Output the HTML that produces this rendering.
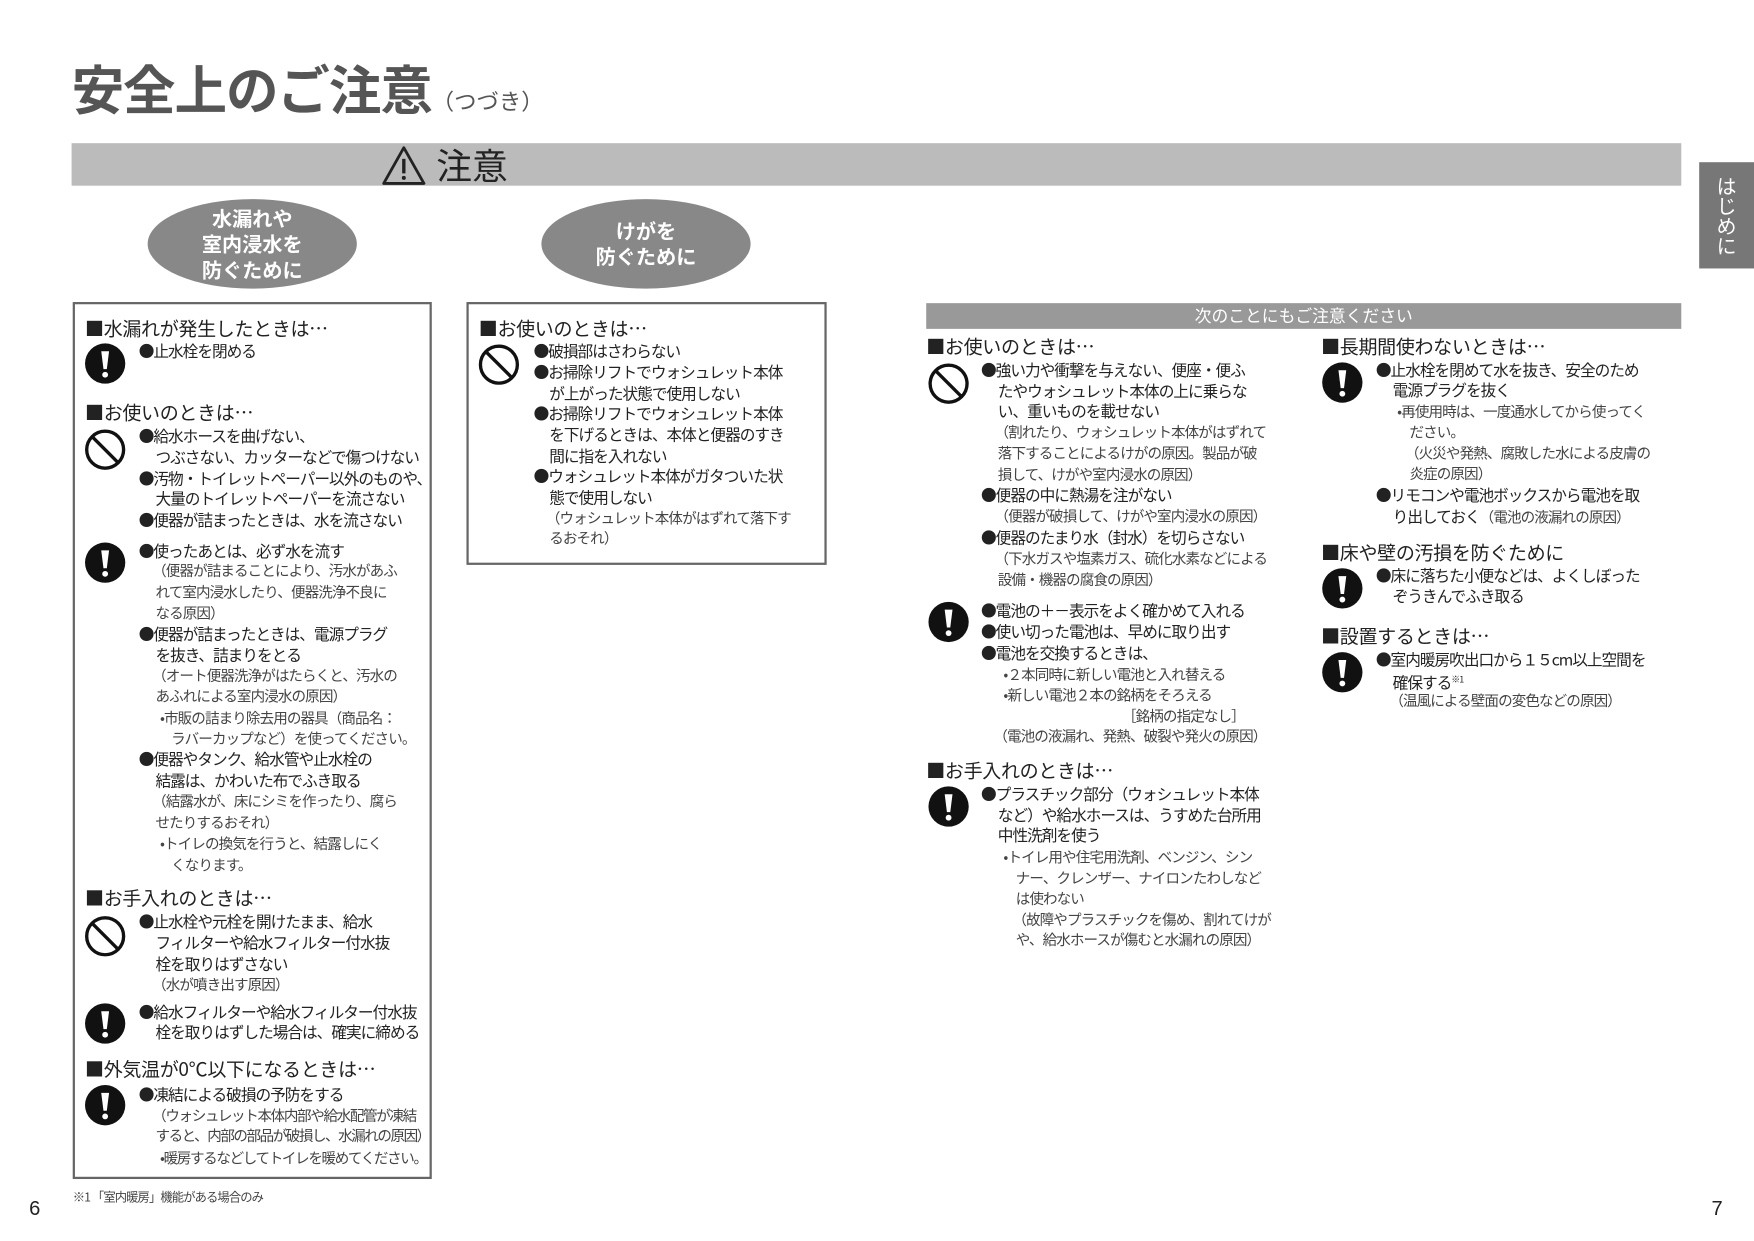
<!DOCTYPE html>
<html><head><meta charset="utf-8">
<style>
html,body{margin:0;padding:0;background:#fff;}
body{width:1754px;height:1240px;overflow:hidden;position:relative;}
#w{position:absolute;left:0;top:0;width:1568px;height:1109px;transform:scale(1.11862);transform-origin:0 0;
font-family:"Noto Sans CJK JP","Liberation Sans",sans-serif;color:#222;}
.l{position:absolute;white-space:nowrap;line-height:20px;font-size:14px;letter-spacing:-0.9px;}
.n{font-size:13px;letter-spacing:-0.8px;color:#444;}
.h{font-size:17px;letter-spacing:-0.3px;line-height:22px;}
.box{position:absolute;border:2px solid #666;box-sizing:border-box;}
svg.i{position:absolute;width:38px;height:38px;}
.ell{position:absolute;background:#888;border-radius:50%;color:#fff;font-weight:bold;font-size:18px;line-height:23px;text-align:center;display:flex;align-items:center;justify-content:center;}
</style></head><body><div id="w">

<div style="position:absolute;left:64px;top:48px;font-size:47px;font-weight:bold;color:#555;letter-spacing:-1px;white-space:nowrap;line-height:60px;">安全上のご注意<span style="font-size:20px;font-weight:normal;letter-spacing:0;">（つづき）</span></div>

<div style="position:absolute;left:64px;top:128px;width:1439px;height:38px;background:#bbb;"></div>
<svg style="position:absolute;left:341px;top:130px" width="40" height="36" viewBox="0 0 40 36"><path d="M20 2 L38 34 L2 34 Z" fill="none" stroke="#222" stroke-width="2.5" stroke-linejoin="round"/><rect x="18.5" y="12" width="3" height="13" fill="#222"/><circle cx="20" cy="29" r="1.8" fill="#222"/></svg>
<div style="position:absolute;left:390px;top:126px;font-size:32px;line-height:42px;color:#222;">注意</div>

<div class="ell" style="left:132px;top:178px;width:187px;height:80px;">水漏れや<br>室内浸水を<br>防ぐために</div>
<div class="ell" style="left:484px;top:178px;width:187px;height:80px;">けがを<br>防ぐために</div>

<div style="position:absolute;left:1519px;top:145px;width:49px;height:95px;background:#777;color:#fff;font-size:18px;writing-mode:vertical-rl;display:flex;align-items:center;justify-content:center;">はじめに</div>

<svg width="0" height="0" style="position:absolute"><defs>
<g id="ex"><circle cx="19" cy="19" r="18" fill="#111"/><path d="M15.5 8 L22.5 8 L20.5 24 L17.5 24 Z" fill="#fff"/><circle cx="19" cy="29" r="2.6" fill="#fff"/></g>
<g id="pr"><circle cx="19" cy="19" r="16.5" fill="none" stroke="#111" stroke-width="3"/><line x1="7.5" y1="7.5" x2="30.5" y2="30.5" stroke="#111" stroke-width="3"/></g>
</defs></svg>

<!-- Box 1 -->
<div class="box" style="left:65px;top:270px;width:321px;height:784px;"></div>
<div class="l h" style="left:76px;top:282px">■水漏れが発生したときは…</div>
<svg class="i" style="left:75px;top:306px" viewBox="0 0 38 38"><use href="#ex"/></svg>
<div class="l" style="left:124px;top:304px">●止水栓を閉める</div>
<div class="l h" style="left:76px;top:357px">■お使いのときは…</div>
<svg class="i" style="left:75px;top:383px" viewBox="0 0 38 38"><use href="#pr"/></svg>
<div class="l" style="left:124px;top:380px">●給水ホースを曲げない、</div>
<div class="l" style="left:139px;top:399px">つぶさない、カッターなどで傷つけない</div>
<div class="l" style="left:124px;top:418px">●汚物・トイレットペーパー以外のものや、</div>
<div class="l" style="left:139px;top:436px">大量のトイレットペーパーを流さない</div>
<div class="l" style="left:124px;top:455px">●便器が詰まったときは、水を流さない</div>
<svg class="i" style="left:75px;top:484px" viewBox="0 0 38 38"><use href="#ex"/></svg>
<div class="l" style="left:124px;top:483px">●使ったあとは、必ず水を流す</div>
<div class="l n" style="left:136px;top:500px">（便器が詰まることにより、汚水があふ</div>
<div class="l n" style="left:139px;top:519px">れて室内浸水したり、便器洗浄不良に</div>
<div class="l n" style="left:139px;top:538px">なる原因）</div>
<div class="l" style="left:124px;top:557px">●便器が詰まったときは、電源プラグ</div>
<div class="l" style="left:139px;top:576px">を抜き、詰まりをとる</div>
<div class="l n" style="left:136px;top:594px">（オート便器洗浄がはたらくと、汚水の</div>
<div class="l n" style="left:139px;top:612px">あふれによる室内浸水の原因）</div>
<div class="l n" style="left:143px;top:632px">•市販の詰まり除去用の器具（商品名：</div>
<div class="l n" style="left:153px;top:650px">ラバーカップなど）を使ってください。</div>
<div class="l" style="left:124px;top:669px">●便器やタンク、給水管や止水栓の</div>
<div class="l" style="left:139px;top:688px">結露は、かわいた布でふき取る</div>
<div class="l n" style="left:136px;top:706px">（結露水が、床にシミを作ったり、腐ら</div>
<div class="l n" style="left:139px;top:725px">せたりするおそれ）</div>
<div class="l n" style="left:143px;top:744px">•トイレの換気を行うと、結露しにく</div>
<div class="l n" style="left:153px;top:763px">くなります。</div>
<div class="l h" style="left:76px;top:791px">■お手入れのときは…</div>
<svg class="i" style="left:75px;top:818px" viewBox="0 0 38 38"><use href="#pr"/></svg>
<div class="l" style="left:124px;top:814px">●止水栓や元栓を開けたまま、給水</div>
<div class="l" style="left:139px;top:833px">フィルターや給水フィルター付水抜</div>
<div class="l" style="left:139px;top:852px">栓を取りはずさない</div>
<div class="l n" style="left:136px;top:870px">（水が噴き出す原因）</div>
<svg class="i" style="left:75px;top:896px" viewBox="0 0 38 38"><use href="#ex"/></svg>
<div class="l" style="left:124px;top:895px">●給水フィルターや給水フィルター付水抜</div>
<div class="l" style="left:139px;top:913px">栓を取りはずした場合は、確実に締める</div>
<div class="l h" style="left:76px;top:944px">■外気温が0℃以下になるときは…</div>
<svg class="i" style="left:75px;top:969px" viewBox="0 0 38 38"><use href="#ex"/></svg>
<div class="l" style="left:124px;top:969px">●凍結による破損の予防をする</div>
<div class="l n" style="left:136px;top:987px;letter-spacing:-1.2px">（ウォシュレット本体内部や給水配管が凍結</div>
<div class="l n" style="left:139px;top:1005px;letter-spacing:-1.3px">すると、内部の部品が破損し、水漏れの原因）</div>
<div class="l n" style="left:143px;top:1025px;letter-spacing:-1.2px">•暖房するなどしてトイレを暖めてください。</div>

<!-- Box 2 -->
<div class="box" style="left:417px;top:270px;width:322px;height:235px;"></div>
<div class="l h" style="left:428px;top:282px">■お使いのときは…</div>
<svg class="i" style="left:427px;top:307px" viewBox="0 0 38 38"><use href="#pr"/></svg>
<div class="l" style="left:477px;top:304px">●破損部はさわらない</div>
<div class="l" style="left:477px;top:323px">●お掃除リフトでウォシュレット本体</div>
<div class="l" style="left:491px;top:342px">が上がった状態で使用しない</div>
<div class="l" style="left:477px;top:360px">●お掃除リフトでウォシュレット本体</div>
<div class="l" style="left:491px;top:379px">を下げるときは、本体と便器のすき</div>
<div class="l" style="left:491px;top:398px">間に指を入れない</div>
<div class="l" style="left:477px;top:416px">●ウォシュレット本体がガタついた状</div>
<div class="l" style="left:491px;top:435px">態で使用しない</div>
<div class="l n" style="left:488px;top:453px">（ウォシュレット本体がはずれて落下す</div>
<div class="l n" style="left:491px;top:471px">るおそれ）</div>

<!-- Right header -->
<div style="position:absolute;left:828px;top:271px;width:675px;height:23px;background:#999;color:#fff;font-size:15px;line-height:23px;text-align:center;">次のことにもご注意ください</div>

<!-- Col A -->
<div class="l h" style="left:828px;top:298px">■お使いのときは…</div>
<svg class="i" style="left:829px;top:324px" viewBox="0 0 38 38"><use href="#pr"/></svg>
<div class="l" style="left:877px;top:321px">●強い力や衝撃を与えない、便座・便ふ</div>
<div class="l" style="left:892px;top:340px">たやウォシュレット本体の上に乗らな</div>
<div class="l" style="left:892px;top:358px">い、重いものを載せない</div>
<div class="l n" style="left:889px;top:376px">（割れたり、ウォシュレット本体がはずれて</div>
<div class="l n" style="left:892px;top:395px">落下することによるけがの原因。製品が破</div>
<div class="l n" style="left:892px;top:414px">損して、けがや室内浸水の原因）</div>
<div class="l" style="left:877px;top:433px">●便器の中に熱湯を注がない</div>
<div class="l n" style="left:889px;top:451px">（便器が破損して、けがや室内浸水の原因）</div>
<div class="l" style="left:877px;top:471px">●便器のたまり水（封水）を切らさない</div>
<div class="l n" style="left:889px;top:489px">（下水ガスや塩素ガス、硫化水素などによる</div>
<div class="l n" style="left:892px;top:508px">設備・機器の腐食の原因）</div>
<svg class="i" style="left:829px;top:537px" viewBox="0 0 38 38"><use href="#ex"/></svg>
<div class="l" style="left:877px;top:536px">●電池の＋－表示をよく確かめて入れる</div>
<div class="l" style="left:877px;top:555px">●使い切った電池は、早めに取り出す</div>
<div class="l" style="left:877px;top:574px">●電池を交換するときは、</div>
<div class="l n" style="left:897px;top:593px">•２本同時に新しい電池と入れ替える</div>
<div class="l n" style="left:897px;top:611px">•新しい電池２本の銘柄をそろえる</div>
<div class="l n" style="left:1003px;top:630px">［銘柄の指定なし］</div>
<div class="l n" style="left:888px;top:648px">（電池の液漏れ、発熱、破裂や発火の原因）</div>
<div class="l h" style="left:828px;top:677px">■お手入れのときは…</div>
<svg class="i" style="left:829px;top:702px" viewBox="0 0 38 38"><use href="#ex"/></svg>
<div class="l" style="left:877px;top:700px">●プラスチック部分（ウォシュレット本体</div>
<div class="l" style="left:892px;top:719px">など）や給水ホースは、うすめた台所用</div>
<div class="l" style="left:892px;top:737px">中性洗剤を使う</div>
<div class="l n" style="left:897px;top:756px">•トイレ用や住宅用洗剤、ベンジン、シン</div>
<div class="l n" style="left:908px;top:775px">ナー、クレンザー、ナイロンたわしなど</div>
<div class="l n" style="left:908px;top:793px">は使わない</div>
<div class="l n" style="left:905px;top:812px">（故障やプラスチックを傷め、割れてけが</div>
<div class="l n" style="left:908px;top:830px">や、給水ホースが傷むと水漏れの原因）</div>

<!-- Col B -->
<div class="l h" style="left:1181px;top:298px">■長期間使わないときは…</div>
<svg class="i" style="left:1181px;top:323px" viewBox="0 0 38 38"><use href="#ex"/></svg>
<div class="l" style="left:1230px;top:321px">●止水栓を閉めて水を抜き、安全のため</div>
<div class="l" style="left:1245px;top:339px">電源プラグを抜く</div>
<div class="l n" style="left:1249px;top:358px">•再使用時は、一度通水してから使ってく</div>
<div class="l n" style="left:1260px;top:376px">ださい。</div>
<div class="l n" style="left:1256px;top:395px">（火災や発熱、腐敗した水による皮膚の</div>
<div class="l n" style="left:1260px;top:413px">炎症の原因）</div>
<div class="l" style="left:1230px;top:433px">●リモコンや電池ボックスから電池を取</div>
<div class="l" style="left:1245px;top:452px">り出しておく<span class="n">（電池の液漏れの原因）</span></div>
<div class="l h" style="left:1181px;top:482px">■床や壁の汚損を防ぐために</div>
<svg class="i" style="left:1181px;top:507px" viewBox="0 0 38 38"><use href="#ex"/></svg>
<div class="l" style="left:1230px;top:505px">●床に落ちた小便などは、よくしぼった</div>
<div class="l" style="left:1245px;top:523px">ぞうきんでふき取る</div>
<div class="l h" style="left:1181px;top:557px">■設置するときは…</div>
<svg class="i" style="left:1181px;top:582px" viewBox="0 0 38 38"><use href="#ex"/></svg>
<div class="l" style="left:1230px;top:580px">●室内暖房吹出口から１５cm以上空間を</div>
<div class="l" style="left:1245px;top:598px">確保する<sup style="font-size:8px">※1</sup></div>
<div class="l n" style="left:1242px;top:616px">（温風による壁面の変色などの原因）</div>

<div class="l n" style="left:65px;top:1060px;font-size:11px;">※1 「室内暖房」機能がある場合のみ</div>
<div class="l" style="left:26px;top:1070px;font-size:18px;letter-spacing:0;font-family:'Liberation Sans',sans-serif;">6</div>
<div class="l" style="left:1530px;top:1070px;font-size:18px;letter-spacing:0;font-family:'Liberation Sans',sans-serif;">7</div>
</div></body></html>
